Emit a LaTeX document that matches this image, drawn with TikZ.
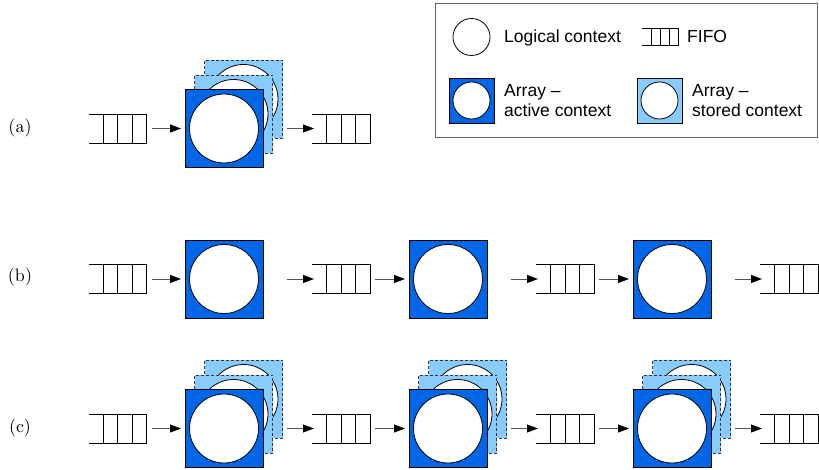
\documentclass[tikz,border=0pt]{standalone}
\usepackage{fontspec}
\setsansfont{Liberation Sans}
\newfontfamily\lblfont{lmroman10-regular.otf}
\usetikzlibrary{arrows.meta,calc}

\definecolor{activeblue}{RGB}{0,102,232}
\definecolor{storedblue}{RGB}{136,204,255}
\definecolor{wiregray}{RGB}{85,85,85}
\definecolor{framegray}{RGB}{100,100,100}

% FIFO outline: closed on the right, open on the left, three dividers
\newcommand\mkfifolines[1]{%
  \draw[fifoline] (#1.north west) -- (#1.north east) -- (#1.south east) -- (#1.south west);
  \foreach \f in {0.25,0.5,0.75}
    \draw[fifoline] ($(#1.north west)!\f!(#1.north east)$) -- ($(#1.south west)!\f!(#1.south east)$);
}
\newcommand\mkfifo[3]{%
  \node[fifobox] (#1) at (#2,#3) {};
  \mkfifolines{#1}
}
% array with its context; #4=1 adds two stored contexts behind it
\newcommand\mkarray[4]{%
  \ifnum#4=1
    \node[storebox] (#1s2) at (#2+19.5,#3-29.5) {};
    \node[ctx] (#1c2) at (#1s2) {};
    \node[storebox] (#1s1) at (#2+9.5,#3-14.5) {};
    \node[ctx] (#1c1) at (#1s1) {};
  \fi
  \node[arraybox] (#1) at (#2,#3) {};
  \node[ctx] (#1c) at (#1) {};
}
% one pipeline stage: incoming FIFO -> array -> outgoing FIFO
\newcommand\mkstage[6]{%
  \mkarray{#2}{#4}{#5}{#6}
  \mkfifo{#3}{#4+117}{#5}
  \draw[conn] ([xshift=5bp]#1.east) -- ([xshift=-4bp]#2.west);
  \draw[conn] ([xshift=24bp]#2.east) -- ([xshift=2bp]#3.west);
}

\begin{document}
\begin{tikzpicture}[x=1bp,y=-1bp,
  arraybox/.style={draw=black, line width=0.9bp, fill=activeblue, minimum size=78bp, inner sep=0pt, outer sep=0pt},
  storebox/.style={arraybox, draw=black!80, fill=storedblue, dash pattern=on 3bp off 2bp},
  ctx/.style={circle, draw=black, line width=0.8bp, fill=white, minimum size=69bp, inner sep=0pt},
  fifobox/.style={minimum width=58bp, minimum height=29bp, inner sep=0pt, outer sep=0pt},
  fifoline/.style={draw=black, line width=0.8bp},
  conn/.style={draw=wiregray, line width=0.9bp, -{Triangle[length=11bp,width=8bp,color=black]}},
  rowlabel/.style={font=\lblfont\fontsize{18bp}{21bp}\selectfont, inner sep=0pt},
  lgtext/.style={font=\sffamily\fontsize{17.5bp}{20bp}\selectfont, inner sep=0pt, anchor=base west},
]
\useasboundingbox (0,0) rectangle (819,470);

% ---- legend ----
\node[draw=framegray, line width=0.9bp, minimum width=382bp, minimum height=134bp,
      inner sep=0pt, anchor=north west] (legend) at (435,3) {};
\node[ctx, minimum size=37bp] (lgc) at (471.5,37) {};
\node[lgtext] (lgct) at (504,43) {Logical context};
\node[fifobox, minimum width=36bp, minimum height=17bp] (lgf) at (660,36.5) {};
\mkfifolines{lgf}
\node[lgtext] (lgft) at (687,43) {FIFO};
\node[arraybox, minimum size=45bp] (lga) at (471.5,100.5) {};
\node[ctx, minimum size=37bp] (lgac) at (lga) {};
\node[lgtext] (lgat1) at (504,97) {Array –};
\node[lgtext] (lgat2) at (504,117) {active context};
\node[arraybox, fill=storedblue, minimum size=45bp] (lgs) at (659.5,100.5) {};
\node[ctx, minimum size=37bp] (lgsc) at (lgs) {};
\node[lgtext] (lgst1) at (692,97) {Array –};
\node[lgtext] (lgst2) at (692,117) {stored context};

% ---- row labels ----
\node[rowlabel] (la) at (20,128) {(a)};
\node[rowlabel] (lb) at (20,277) {(b)};
\node[rowlabel] (lc) at (20,428) {(c)};

% ---- (a) single array with stored contexts ----
\mkfifo{fa0}{117.5}{128.5}
\mkstage{fa0}{aa0}{fa1}{224}{128.5}{1}

% ---- (b) pipeline of arrays ----
\mkfifo{fb0}{117.5}{279}
\mkstage{fb0}{ab0}{fb1}{224}{279}{0}
\mkstage{fb1}{ab1}{fb2}{448}{279}{0}
\mkstage{fb2}{ab2}{fb3}{672}{279}{0}

% ---- (c) pipeline of arrays with stored contexts ----
\mkfifo{fc0}{117.5}{428.5}
\mkstage{fc0}{ac0}{fc1}{224}{428.5}{1}
\mkstage{fc1}{ac1}{fc2}{448}{428.5}{1}
\mkstage{fc2}{ac2}{fc3}{672}{428.5}{1}
\end{tikzpicture}
\end{document}
